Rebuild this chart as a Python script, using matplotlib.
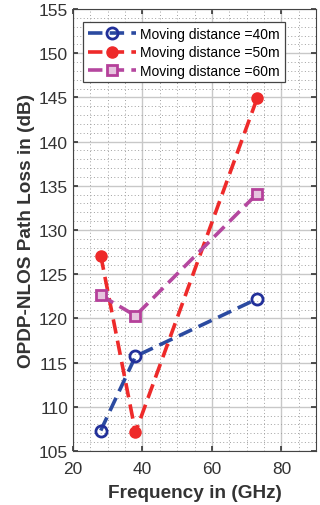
import matplotlib.pyplot as plt
from matplotlib.ticker import MultipleLocator

plt.rcParams['font.family'] = ['Liberation Sans', 'DejaVu Sans']

freq = [28, 38, 73]
loss_40m = [107.3, 115.7, 122.2]
loss_50m = [127.1, 107.1, 144.9]
loss_60m = [122.6, 120.3, 134.1]
labels = ['Moving distance =40m', 'Moving distance =50m', 'Moving distance =60m']

fig = plt.figure(figsize=(3.2, 5.06), dpi=100)
ax = fig.add_axes([0.228, 0.107, 0.76, 0.873])

ax.plot(freq, loss_40m, ls=(0, (4, 2.0)), lw=2.6, color='#2b4aa0', marker='o', ms=8,
        mfc='none', mew=2, mec='#22309a', label=labels[0])
ax.plot(freq, loss_50m, ls=(0, (4, 2.0)), lw=2.6, color='#ee2a2a', marker='o', ms=8,
        mfc='#ee2a2a', mec='#ee2a2a', label=labels[1])
ax.plot(freq, loss_60m, ls=(0, (4, 2.0)), lw=2.6, color='#b5479f', marker='s', ms=7.5,
        mfc='#e6c4de', mew=2, mec='#b5409a', label=labels[2])

ax.set_xlim(20, 90)
ax.set_ylim(105, 155)
ax.xaxis.set_major_locator(MultipleLocator(20))
ax.xaxis.set_minor_locator(MultipleLocator(5))
ax.yaxis.set_major_locator(MultipleLocator(5))
ax.yaxis.set_minor_locator(MultipleLocator(1))
ax.grid(which='major', color='#c8c8c8', lw=1.0, ls='-')
ax.grid(which='minor', color='#a0a0a0', lw=0.7, ls=(0, (1, 2.5)))
ax.set_axisbelow(True)
ax.tick_params(which='both', direction='in', top=True, right=True, labelsize=12.5,
               colors='#333333', width=1.2)
ax.tick_params(axis='x', pad=7)
ax.tick_params(which='minor', length=0)
for s in ax.spines.values():
    s.set_color('#444444')

ax.set_xlabel('Frequency in (GHz)', fontsize=13.7, fontweight='bold', color='#333333',
              labelpad=6)
ax.set_ylabel('OPDP-NLOS Path Loss in (dB)', fontsize=13.7, fontweight='bold',
              color='#333333', labelpad=3)

leg = ax.legend(loc='upper left', bbox_to_anchor=(0.04, 0.97), fontsize=10, framealpha=1,
                edgecolor='#444444', fancybox=False, handlelength=3.5, borderpad=0.35,
                labelspacing=0.3, handletextpad=0.3, borderaxespad=0)
leg.get_frame().set_linewidth(0.9)

fig.savefig('out.png', dpi=100)
